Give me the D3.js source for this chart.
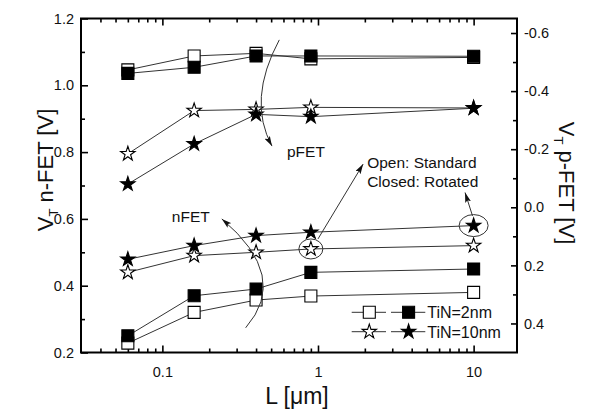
<!DOCTYPE html>
<html>
<head>
<meta charset="utf-8">
<script src="https://cdn.jsdelivr.net/npm/d3@7"></script>
<style>
  body { margin: 0; background: #fff; }
  svg { display: block; font-family: Arial, 'Liberation Sans', sans-serif; }
</style>
</head>
<body>
<svg id="chart" width="593" height="409"></svg>
<script>
// ── Data ──
const lengths = [0.06, 0.16, 0.4, 0.9, 10];   // L [um]

// nFET (left axis), open = standard, closed = rotated
const nSq2Open    = [0.228, 0.320, 0.357, 0.369, 0.380];
const nSq2Fill    = [0.250, 0.370, 0.390, 0.440, 0.450];
const nStar10Open = [0.440, 0.490, 0.500, 0.510, 0.520];
const nStar10Fill = [0.479, 0.520, 0.550, 0.560, 0.580];

// pFET (right axis)
const pSq2Open    = [-0.473, -0.521, -0.530, -0.511, -0.516];
const pSq2Fill    = [-0.461, -0.482, -0.521, -0.521, -0.520];
const pStar10Open = [-0.184, -0.333, -0.337, -0.344, -0.342];
const pStar10Fill = [-0.080, -0.218, -0.320, -0.312, -0.341];

const xMajorTicks  = [0.1, 1, 10];
const yLeftTicks   = [0.2, 0.4, 0.6, 0.8, 1.0, 1.2];
const yLeftMinor   = [0.3, 0.5, 0.7, 0.9, 1.1];
const yRightTicks  = [-0.6, -0.4, -0.2, 0.0, 0.2, 0.4];
const yRightMinor  = [-0.5, -0.3, -0.1, 0.1, 0.3];

const margin = { top: 18.5, right: 76, bottom: 56.5, left: 81 };
const W = 593, H = 409;
const width  = W - margin.left - margin.right;
const height = H - margin.top - margin.bottom;

const svg = d3.select('#chart');
const g = svg.append('g').attr('transform', `translate(${margin.left},${margin.top})`);

const x  = d3.scaleLog().domain([0.03, 19]).range([0, width]);
const yL = d3.scaleLinear().domain([0.2, 1.2]).range([height, 0]);
const yR = d3.scaleLinear().domain([0.5, -0.65]).range([height, 0]);

// minor log ticks inside the domain
const xMinorTicks = [];
[0.01, 0.1, 1, 10].forEach(dec => {
  for (let k = 2; k <= 9; k++) {
    const v = +(dec * k).toPrecision(3);
    if (v > 0.03 && v < 19) xMinorTicks.push(v);
  }
});

// ── Axes (ticks point inward) ──
function styleAxis(sel) {
  sel.select('.domain').remove();
  sel.selectAll('line').attr('stroke', '#000').attr('stroke-width', 1.6);
  sel.selectAll('text').attr('fill', '#111').style('font-size', '14.5px').style('font-family', 'Arial, Liberation Sans, sans-serif');
}

g.append('g').attr('transform', `translate(0,${height})`)
  .call(d3.axisBottom(x).tickValues(xMajorTicks).tickSize(-7).tickPadding(14).tickFormat(d => d >= 1 ? d3.format('d')(d) : String(d)))
  .call(styleAxis);
g.append('g').attr('transform', `translate(0,${height})`)
  .call(d3.axisBottom(x).tickValues(xMinorTicks).tickSize(-4).tickFormat(''))
  .call(styleAxis);
g.append('g')
  .call(d3.axisTop(x).tickValues(xMajorTicks).tickSize(-7).tickFormat(''))
  .call(styleAxis);
g.append('g')
  .call(d3.axisTop(x).tickValues(xMinorTicks).tickSize(-4).tickFormat(''))
  .call(styleAxis);

g.append('g')
  .call(d3.axisLeft(yL).tickValues(yLeftTicks).tickSize(-7).tickPadding(7).tickFormat(d => d.toFixed(1)))
  .call(styleAxis);
g.append('g')
  .call(d3.axisLeft(yL).tickValues(yLeftMinor).tickSize(-4).tickFormat(''))
  .call(styleAxis);

g.append('g').attr('transform', `translate(${width},0)`)
  .call(d3.axisRight(yR).tickValues(yRightTicks).tickSize(-6).tickPadding(7).tickFormat(d => d.toFixed(1)))
  .call(styleAxis);
g.append('g').attr('transform', `translate(${width},0)`)
  .call(d3.axisRight(yR).tickValues(yRightMinor).tickSize(-4).tickFormat(''))
  .call(styleAxis);

// frame
g.append('rect')
  .attr('width', width).attr('height', height)
  .attr('fill', 'none').attr('stroke', '#000').attr('stroke-width', 2);

// ── Series ──
const series = [
  { values: nSq2Open,    y: yL, shape: 'square', filled: false },
  { values: nStar10Open, y: yL, shape: 'star',   filled: false },
  { values: pSq2Open,    y: yR, shape: 'square', filled: false },
  { values: pStar10Open, y: yR, shape: 'star',   filled: false },
  { values: nSq2Fill,    y: yL, shape: 'square', filled: true },
  { values: nStar10Fill, y: yL, shape: 'star',   filled: true },
  { values: pSq2Fill,    y: yR, shape: 'square', filled: true },
  { values: pStar10Fill, y: yR, shape: 'star',   filled: true }
];

const symbolPath = {
  square: d3.symbol(d3.symbolSquare, 144)(),
  star:   d3.symbol(d3.symbolStar, 64)()
};

series.forEach(s => {
  const pts = lengths.map((L, i) => [x(L), s.y(s.values[i])]);
  g.append('path')
    .datum(pts)
    .attr('fill', 'none')
    .attr('stroke', '#333')
    .attr('stroke-width', 1)
    .attr('d', d3.line());
});

series.forEach(s => {
  g.selectAll(null)
    .data(lengths.map((L, i) => [x(L), s.y(s.values[i])]))
    .enter()
    .append('path')
    .attr('transform', d => `translate(${d[0]},${d[1]})`)
    .attr('d', symbolPath[s.shape])
    .attr('fill', s.filled ? '#000' : '#fff')
    .attr('stroke', '#000')
    .attr('stroke-width', 1.1);
});

// ── Annotations ──
svg.append('defs').append('marker')
  .attr('id', 'arrow')
  .attr('viewBox', '0 0 10 6')
  .attr('refX', 10).attr('refY', 3)
  .attr('markerWidth', 10).attr('markerHeight', 6)
  .attr('markerUnits', 'userSpaceOnUse')
  .attr('orient', 'auto')
  .append('path').attr('d', 'M0,0 L10,3 L0,6 L2,3 z').attr('fill', '#111');

// curved arrows in data space: [L, V(left axis)]
const pArc = [[0.564, 1.136], [0.350, 0.956], [0.506, 0.818]];
const nArc = [[0.343, 0.274], [0.664, 0.427], [0.241, 0.600]];

[pArc, nArc].forEach(a => {
  const p = d3.path();
  p.moveTo(x(a[0][0]), yL(a[0][1]));
  p.quadraticCurveTo(x(a[1][0]), yL(a[1][1]), x(a[2][0]), yL(a[2][1]));
  g.append('path')
    .attr('d', p.toString())
    .attr('fill', 'none')
    .attr('stroke', '#333')
    .attr('stroke-width', 1)
    .attr('marker-end', 'url(#arrow)');
});

const labelFont = '15.5px';
g.append('text').attr('x', x(0.632)).attr('y', yL(0.786))
  .style('font-size', labelFont).attr('fill', '#111').text('pFET');
g.append('text').attr('x', x(0.115)).attr('y', yL(0.592))
  .style('font-size', labelFont).attr('fill', '#111').text('nFET');
g.append('text').attr('x', x(2.07)).attr('y', yL(0.752))
  .style('font-size', labelFont).attr('fill', '#111').text('Open: Standard');
g.append('text').attr('x', x(2.07)).attr('y', yL(0.696))
  .style('font-size', labelFont).attr('fill', '#111').text('Closed: Rotated');

// circled points
[[lengths[3], nStar10Open[3], 12, 10], [lengths[4], nStar10Fill[4], 14.5, 11]].forEach(e => {
  g.append('ellipse')
    .attr('cx', x(e[0])).attr('cy', yL(e[1]))
    .attr('rx', e[2]).attr('ry', e[3])
    .attr('fill', 'none').attr('stroke', '#333').attr('stroke-width', 1);
});

// pointer arrows from circles to the note
const pointers = [
  [[1.0, 0.54], [1.95, 0.764]],
  [[9.84, 0.609], [8.81, 0.679]]
];
pointers.forEach(pr => {
  g.append('line')
    .attr('x1', x(pr[0][0])).attr('y1', yL(pr[0][1]))
    .attr('x2', x(pr[1][0])).attr('y2', yL(pr[1][1]))
    .attr('stroke', '#333').attr('stroke-width', 1)
    .attr('marker-end', 'url(#arrow)');
});

// ── Legend ──
const legendRows = [
  { shape: 'square', label: 'TiN=2nm' },
  { shape: 'star',   label: 'TiN=10nm' }
];
const legend = g.append('g').attr('transform', `translate(${351.7 - margin.left},${312.3 - margin.top})`);
legendRows.forEach((r, i) => {
  const row = legend.append('g').attr('transform', `translate(0,${i * 19.4})`);
  [false, true].forEach((filled, j) => {
    const x0 = j * 39.3;
    row.append('line').attr('x1', x0).attr('x2', x0 + 34.3)
      .attr('stroke', '#333').attr('stroke-width', 1);
    row.append('path')
      .attr('transform', `translate(${x0 + 17.6},0)`)
      .attr('d', symbolPath[r.shape])
      .attr('fill', filled ? '#000' : '#fff')
      .attr('stroke', '#000').attr('stroke-width', 1.1);
  });
  row.append('text').attr('x', 75.5).attr('y', 6)
    .style('font-size', '16px').attr('fill', '#111').text(r.label);
});

// ── Axis titles ──
svg.append('text')
  .attr('x', 297).attr('y', 404)
  .attr('text-anchor', 'middle')
  .style('font-size', '23px').attr('fill', '#111')
  .text('L [\u03bcm]');

const leftTitle = svg.append('text')
  .attr('transform', 'translate(53,170) rotate(-90)')
  .attr('text-anchor', 'middle')
  .style('font-size', '22px').attr('fill', '#111');
leftTitle.append('tspan').text('V');
leftTitle.append('tspan').attr('dy', 5).style('font-size', '13px').text('T');
leftTitle.append('tspan').attr('dy', -5).text(' n-FET [V]');

const rightTitle = svg.append('text')
  .attr('transform', 'translate(559,183) rotate(90)')
  .attr('text-anchor', 'middle')
  .style('font-size', '22px').attr('fill', '#111');
rightTitle.append('tspan').text('V');
rightTitle.append('tspan').attr('dy', 5).style('font-size', '13px').text('T');
rightTitle.append('tspan').attr('dy', -5).text(' p-FET [V]');
</script>
</body>
</html>
